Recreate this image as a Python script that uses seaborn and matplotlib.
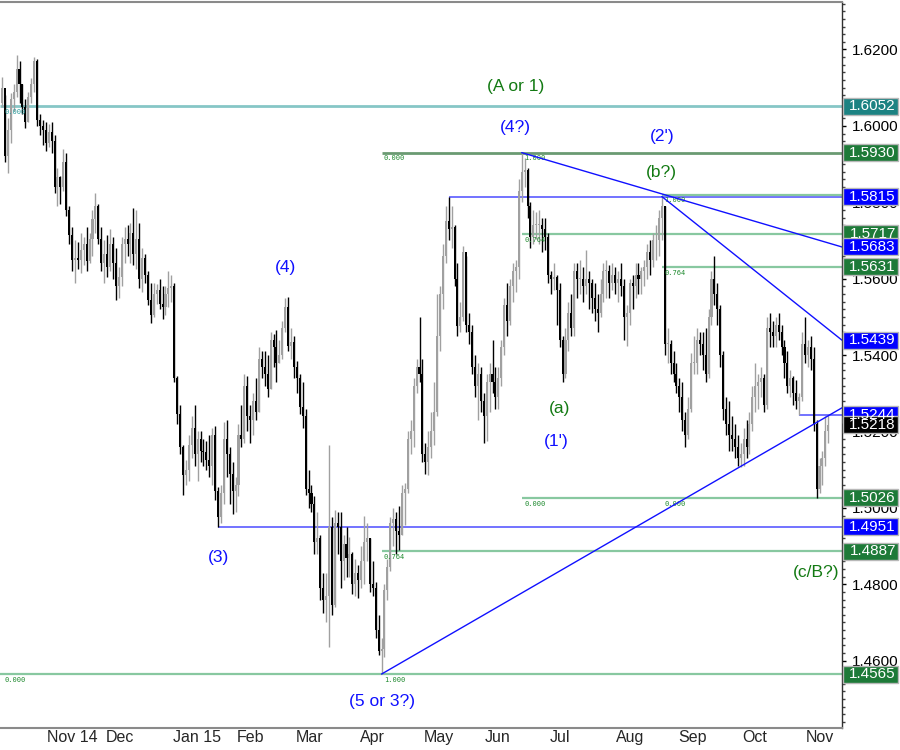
import numpy as np
import pandas as pd
import matplotlib
matplotlib.use("Agg")
import matplotlib.pyplot as plt
import matplotlib.transforms as mtransforms
from matplotlib.patches import Rectangle
from matplotlib.ticker import FormatStrFormatter, MultipleLocator
import seaborn as sns

sns.set_style("white")
plt.rcParams['font.family'] = ['Liberation Sans', 'DejaVu Sans']

# GBP/USD daily candles, weekdays 13 Oct 2014 - 12 Nov 2015
dates = pd.bdate_range('2014-10-13', '2015-11-12')
first_open = 1.6060

highs = [
    # Oct 14
    1.6128, 1.6080, 1.6020, 1.6085, 1.6110, 1.6185, 1.6170, 1.6110, 1.6070, 1.6090, 1.6125, 1.6180, 1.6175, 1.6030, 1.6015,
    # Nov 14
    1.6010, 1.6005, 1.6010, 1.5975, 1.5890, 1.5870, 1.5940, 1.5930, 1.5790, 1.5735, 1.5700, 1.5695, 1.5720, 1.5710, 1.5735,
    1.5720, 1.5780, 1.5825, 1.5795, 1.5735,
    # Dec
    1.5700, 1.5715, 1.5730, 1.5710, 1.5680, 1.5630, 1.5710, 1.5735, 1.5740, 1.5745, 1.5785, 1.5780, 1.5745, 1.5680, 1.5665,
    1.5620, 1.5590, 1.5590, 1.5585, 1.5600, 1.5580, 1.5580, 1.5620,
    # Jan 15
    1.5610, 1.5590, 1.5345, 1.5270, 1.5165, 1.5125, 1.5190, 1.5240, 1.5270, 1.5200, 1.5200, 1.5180, 1.5175, 1.5190, 1.5210,
    1.5215, 1.5055, 1.5060, 1.5225, 1.5230, 1.5160, 1.5120,
    # Feb
    1.5080, 1.5220, 1.5270, 1.5350, 1.5345, 1.5270, 1.5300, 1.5340, 1.5420, 1.5410, 1.5410, 1.5400, 1.5460, 1.5455, 1.5465,
    1.5440, 1.5490, 1.5550, 1.5552, 1.5470,
    # Mar
    1.5450, 1.5385, 1.5350, 1.5330, 1.5260, 1.5100, 1.5060, 1.5030, 1.4990, 1.4930, 1.4830, 1.4830, 1.5165, 1.4975, 1.4995,
    1.4990, 1.4990, 1.4930, 1.4950, 1.4925, 1.4885, 1.4865,
    # Apr
    1.4850, 1.4900, 1.4980, 1.4960, 1.4920, 1.4860, 1.4805, 1.4720, 1.4660, 1.4800, 1.4865, 1.4975, 1.5000, 1.4990, 1.5005,
    1.5060, 1.5065, 1.5200, 1.5230, 1.5340, 1.5390, 1.5500,
    # May
    1.5390, 1.5170, 1.5200, 1.5250, 1.5330, 1.5560, 1.5580, 1.5690, 1.5790, 1.5815, 1.5790, 1.5740, 1.5640, 1.5540, 1.5685,
    1.5660, 1.5510, 1.5480, 1.5400, 1.5380, 1.5370,
    # Jun
    1.5300, 1.5350, 1.5380, 1.5440, 1.5370, 1.5370, 1.5440, 1.5550, 1.5590, 1.5600, 1.5640, 1.5650, 1.5860, 1.5930, 1.5915,
    1.5890, 1.5800, 1.5780, 1.5775, 1.5780, 1.5760, 1.5760,
    # Jul
    1.5720, 1.5620, 1.5640, 1.5610, 1.5590, 1.5450, 1.5470, 1.5540, 1.5560, 1.5640, 1.5640, 1.5650, 1.5630, 1.5675, 1.5620,
    1.5600, 1.5590, 1.5560, 1.5600, 1.5640, 1.5650, 1.5635, 1.5640,
    # Aug
    1.5630, 1.5620, 1.5640, 1.5600, 1.5530, 1.5600, 1.5610, 1.5640, 1.5640, 1.5630, 1.5650, 1.5690, 1.5700, 1.5720, 1.5740,
    1.5780, 1.5815, 1.5790, 1.5470, 1.5440, 1.5410,
    # Sep
    1.5380, 1.5340, 1.5330, 1.5250, 1.5290, 1.5405, 1.5450, 1.5470, 1.5460, 1.5460, 1.5470, 1.5520, 1.5620, 1.5659, 1.5590,
    1.5530, 1.5410, 1.5290, 1.5280, 1.5240, 1.5220, 1.5190,
    # Oct
    1.5170, 1.5210, 1.5230, 1.5250, 1.5320, 1.5380, 1.5350, 1.5370, 1.5350, 1.5500, 1.5509, 1.5490, 1.5500, 1.5510, 1.5480,
    1.5440, 1.5410, 1.5360, 1.5345, 1.5335, 1.5300, 1.5460,
    # Nov
    1.5500, 1.5440, 1.5450, 1.5420, 1.5230, 1.5130, 1.5150, 1.5240, 1.5244,
]

lows = [
    # Oct 14
    1.6050, 1.5905, 1.5877, 1.5955, 1.6040, 1.6075, 1.6060, 1.6030, 1.5995, 1.6010, 1.6060, 1.6090, 1.6000, 1.5975, 1.5950,
    # Nov 14
    1.5935, 1.5945, 1.5930, 1.5825, 1.5790, 1.5795, 1.5830, 1.5765, 1.5690, 1.5620, 1.5590, 1.5625, 1.5615, 1.5635, 1.5620,
    1.5640, 1.5660, 1.5720, 1.5690, 1.5620,
    # Dec
    1.5590, 1.5605, 1.5620, 1.5600, 1.5545, 1.5550, 1.5580, 1.5640, 1.5660, 1.5640, 1.5635, 1.5625, 1.5575, 1.5565, 1.5590,
    1.5530, 1.5485, 1.5500, 1.5535, 1.5520, 1.5495, 1.5505, 1.5525,
    # Jan 15
    1.5540, 1.5330, 1.5220, 1.5140, 1.5035, 1.5060, 1.5070, 1.5130, 1.5110, 1.5070, 1.5120, 1.5110, 1.5100, 1.5080, 1.5060,
    1.5020, 1.4951, 1.4960, 1.5010, 1.5080, 1.5010, 1.4985,
    # Feb
    1.4990, 1.5030, 1.5160, 1.5170, 1.5200, 1.5170, 1.5190, 1.5230, 1.5250, 1.5340, 1.5320, 1.5290, 1.5310, 1.5370, 1.5330,
    1.5380, 1.5390, 1.5460, 1.5410, 1.5390,
    # Mar
    1.5340, 1.5300, 1.5245, 1.5210, 1.5035, 1.5000, 1.4990, 1.4880, 1.4880, 1.4760, 1.4725, 1.4700, 1.4635, 1.4720, 1.4740,
    1.4880, 1.4790, 1.4810, 1.4820, 1.4820, 1.4775, 1.4770,
    # Apr
    1.4765, 1.4790, 1.4800, 1.4860, 1.4780, 1.4770, 1.4660, 1.4615, 1.4565, 1.4610, 1.4760, 1.4835, 1.4900, 1.4880, 1.4890,
    1.4930, 1.4955, 1.5040, 1.5140, 1.5160, 1.5300, 1.5330,
    # May
    1.5120, 1.5090, 1.5085, 1.5130, 1.5165, 1.5240, 1.5410, 1.5520, 1.5640, 1.5700, 1.5680, 1.5580, 1.5450, 1.5460, 1.5490,
    1.5460, 1.5430, 1.5350, 1.5290, 1.5230, 1.5250,
    # Jun
    1.5170, 1.5175, 1.5250, 1.5300, 1.5260, 1.5260, 1.5320, 1.5400, 1.5450, 1.5480, 1.5540, 1.5565, 1.5600, 1.5800, 1.5840,
    1.5760, 1.5680, 1.5690, 1.5705, 1.5690, 1.5670, 1.5675,
    # Jul
    1.5590, 1.5560, 1.5570, 1.5480, 1.5420, 1.5330, 1.5340, 1.5410, 1.5450, 1.5450, 1.5550, 1.5560, 1.5540, 1.5560, 1.5520,
    1.5510, 1.5490, 1.5460, 1.5500, 1.5540, 1.5550, 1.5550, 1.5570,
    # Aug
    1.5560, 1.5540, 1.5555, 1.5440, 1.5425, 1.5480, 1.5520, 1.5550, 1.5560, 1.5560, 1.5580, 1.5600, 1.5610, 1.5630, 1.5650,
    1.5660, 1.5700, 1.5400, 1.5380, 1.5350, 1.5330,
    # Sep
    1.5300, 1.5250, 1.5200, 1.5160, 1.5180, 1.5250, 1.5350, 1.5350, 1.5400, 1.5360, 1.5330, 1.5340, 1.5480, 1.5530, 1.5480,
    1.5370, 1.5230, 1.5190, 1.5150, 1.5150, 1.5130, 1.5110,
    # Oct
    1.5107, 1.5110, 1.5130, 1.5140, 1.5200, 1.5250, 1.5260, 1.5290, 1.5250, 1.5260, 1.5420, 1.5420, 1.5420, 1.5440, 1.5400,
    1.5340, 1.5300, 1.5290, 1.5270, 1.5260, 1.5244, 1.5280,
    # Nov
    1.5380, 1.5370, 1.5360, 1.5200, 1.5026, 1.5040, 1.5060, 1.5110, 1.5170,
]

closes = [
    # Oct 14
    1.6100, 1.5920, 1.5990, 1.6070, 1.6090, 1.6150, 1.6110, 1.6050, 1.6010, 1.6075, 1.6110, 1.6170, 1.6015, 1.6000, 1.5990,
    # Nov 14
    1.5955, 1.5985, 1.5960, 1.5840, 1.5865, 1.5840, 1.5905, 1.5780, 1.5715, 1.5650, 1.5655, 1.5650, 1.5675, 1.5690, 1.5645,
    1.5705, 1.5755, 1.5790, 1.5705, 1.5640,
    # Dec
    1.5665, 1.5630, 1.5690, 1.5640, 1.5580, 1.5605, 1.5690, 1.5705, 1.5690, 1.5720, 1.5665, 1.5705, 1.5600, 1.5655, 1.5610,
    1.5545, 1.5505, 1.5560, 1.5570, 1.5535, 1.5525, 1.5560, 1.5575,
    # Jan 15
    1.5580, 1.5340, 1.5245, 1.5160, 1.5085, 1.5100, 1.5165, 1.5210, 1.5140, 1.5180, 1.5150, 1.5145, 1.5125, 1.5110, 1.5190,
    1.5045, 1.4975, 1.5040, 1.5180, 1.5140, 1.5090, 1.5045,
    # Feb
    1.5060, 1.5190, 1.5180, 1.5320, 1.5240, 1.5230, 1.5280, 1.5250, 1.5390, 1.5370, 1.5350, 1.5310, 1.5440, 1.5420, 1.5380,
    1.5400, 1.5470, 1.5525, 1.5425, 1.5435,
    # Mar
    1.5370, 1.5340, 1.5265, 1.5240, 1.5050, 1.5040, 1.5010, 1.4910, 1.4920, 1.4790, 1.4760, 1.4770, 1.4950, 1.4745, 1.4960,
    1.4950, 1.4860, 1.4905, 1.4870, 1.4880, 1.4800, 1.4830,
    # Apr
    1.4810, 1.4860, 1.4910, 1.4920, 1.4800, 1.4790, 1.4680, 1.4625, 1.4630, 1.4785, 1.4845, 1.4960, 1.4970, 1.4940, 1.4930,
    1.5040, 1.5050, 1.5180, 1.5200, 1.5320, 1.5370, 1.5350,
    # May
    1.5140, 1.5120, 1.5160, 1.5200, 1.5250, 1.5450, 1.5560, 1.5660, 1.5750, 1.5730, 1.5735, 1.5600, 1.5475, 1.5500, 1.5670,
    1.5480, 1.5460, 1.5370, 1.5320, 1.5350, 1.5280,
    # Jun
    1.5240, 1.5330, 1.5350, 1.5330, 1.5290, 1.5340, 1.5420, 1.5530, 1.5490, 1.5580, 1.5620, 1.5630, 1.5830, 1.5880, 1.5885,
    1.5790, 1.5710, 1.5740, 1.5740, 1.5740, 1.5730, 1.5710,
    # Jul
    1.5610, 1.5600, 1.5605, 1.5570, 1.5440, 1.5350, 1.5440, 1.5510, 1.5470, 1.5620, 1.5600, 1.5600, 1.5580, 1.5600, 1.5590,
    1.5550, 1.5520, 1.5510, 1.5560, 1.5620, 1.5620, 1.5590, 1.5610,
    # Aug
    1.5590, 1.5600, 1.5580, 1.5500, 1.5510, 1.5590, 1.5580, 1.5610, 1.5600, 1.5620, 1.5630, 1.5670, 1.5650, 1.5700, 1.5700,
    1.5760, 1.5790, 1.5430, 1.5430, 1.5380, 1.5350,
    # Sep
    1.5320, 1.5290, 1.5230, 1.5190, 1.5260, 1.5380, 1.5380, 1.5440, 1.5430, 1.5400, 1.5350, 1.5500, 1.5600, 1.5560, 1.5520,
    1.5400, 1.5260, 1.5220, 1.5190, 1.5180, 1.5160, 1.5130,
    # Oct
    1.5140, 1.5180, 1.5160, 1.5220, 1.5290, 1.5320, 1.5330, 1.5340, 1.5270, 1.5470, 1.5460, 1.5450, 1.5480, 1.5460, 1.5420,
    1.5380, 1.5320, 1.5340, 1.5300, 1.5280, 1.5290, 1.5430,
    # Nov
    1.5400, 1.5420, 1.5390, 1.5220, 1.5050, 1.5110, 1.5130, 1.5200, 1.5218,
]

# x axis months
month_starts = ['2014-11-03', '2014-12-01', '2015-01-01', '2015-02-02', '2015-03-02', '2015-04-01',
                '2015-05-01', '2015-06-01', '2015-07-01', '2015-08-03', '2015-09-01', '2015-10-01', '2015-11-02']
month_labels = ['Nov 14', 'Dec', 'Jan 15', 'Feb', 'Mar', 'Apr', 'May', 'Jun', 'Jul', 'Aug', 'Sep', 'Oct', 'Nov']

# horizontal levels: value, start date (None = whole chart), kind
level_values = [1.6052, 1.5930, 1.5815, 1.5820, 1.5717, 1.5631, 1.5244, 1.5026, 1.4951, 1.4887, 1.4565]
level_starts = [None, '2015-04-13', '2015-05-14', '2015-08-25', '2015-06-18', '2015-08-25', '2015-10-29',
                '2015-06-18', '2015-01-23', '2015-04-13', None]
level_kinds = ['ref', 'main', 'swing', 'fib', 'fib', 'fib', 'swing', 'fib', 'swing', 'fib', 'fib']

# fib ratio tags: text, level, date (None = left edge)
fib_texts = ['0.000', '0.000', '1.000', '1.000', '0.764', '0.764', '0.000', '0.000', '0.764', '0.000', '1.000']
fib_levels = [1.6052, 1.5930, 1.5930, 1.5820, 1.5717, 1.5631, 1.5026, 1.5026, 1.4887, 1.4565, 1.4565]
fib_dates = [None, '2015-04-13', '2015-06-18', '2015-08-25', '2015-06-18', '2015-08-25', '2015-06-18',
             '2015-08-25', '2015-04-13', None, '2015-04-13']

# trend lines: start point and value reached at the right edge
trend_dates = ['2015-06-18', '2015-08-25', '2015-04-13']
trend_start = [1.5930, 1.5815, 1.4565]
trend_end = [1.5683, 1.5439, 1.5262]

# wave count labels
wave_texts = ['(A or 1)', '(4?)', "(2')", '(b?)', '(4)', '(a)', "(1')", '(3)', '(5 or 3?)', '(c/B?)']
wave_dates = ['2015-06-16', '2015-06-16', '2015-08-25', '2015-08-25', '2015-02-25', '2015-07-07',
              '2015-07-06', '2015-01-23', '2015-04-13', '2015-11-06']
wave_prices = [1.6104, 1.5997, 1.5971, 1.5879, 1.5628, 1.5259, 1.5173, 1.4871, 1.4492, 1.4832]
wave_kinds = ['green', 'blue', 'blue', 'green', 'blue', 'green', 'blue', 'blue', 'blue', 'green']

# value boxes on the price scale
box_values = [1.6052, 1.5930, 1.5815, 1.5717, 1.5683, 1.5631, 1.5439, 1.5244, 1.5218, 1.5026, 1.4951, 1.4887, 1.4565]
box_kinds = ['ref', 'green', 'blue', 'green', 'blue', 'green', 'blue', 'blue', 'last', 'green', 'blue', 'green', 'green']

BLUE = '#1010ff'
GREEN_TXT = '#137a13'
line_colors = {'ref': '#86c6c6', 'main': '#6a9a72', 'swing': '#5a5aff', 'fib': '#88c8a0'}
box_colors = {'ref': '#1c8282', 'green': '#1d7a38', 'blue': '#0000ff', 'last': '#000000'}
text_colors = {'green': GREEN_TXT, 'blue': BLUE}

opens = np.array([first_open] + closes[:-1])
highs = np.array(highs)
lows = np.array(lows)
closes = np.array(closes)
x = np.arange(len(dates))


def idx(d):
    return dates.get_loc(pd.Timestamp(d))


fig = plt.figure(figsize=(9, 7.5), dpi=100)
ax = fig.add_axes([0.0, 22 / 750, 842 / 900, 726 / 750])
ymin, ymax = 1.44238, 1.63243
xmin, xmax = -0.68, 287.7
ax.set_xlim(xmin, xmax)
ax.set_ylim(ymin, ymax)

# candles
up = closes >= opens
cols = np.where(up, '#a0a0a0', '#000000')
ax.vlines(x, lows, highs, colors=cols, lw=1, zorder=3)
ax.bar(x, np.maximum(np.abs(closes - opens), 0.00025), bottom=np.minimum(opens, closes),
       width=0.7, color=cols, linewidth=0, zorder=3)

# horizontal levels
for v, s, k in zip(level_values, level_starts, level_kinds):
    x0 = xmin if s is None else idx(s)
    lw = 2 if k in ('ref', 'main') else (1.6 if k == 'fib' else 1.2)
    ax.plot([x0, xmax], [v, v], color=line_colors[k], lw=lw, zorder=2, solid_capstyle='butt')

# fib tags
for t, v, d in zip(fib_texts, fib_levels, fib_dates):
    x0 = xmin + 1.5 if d is None else idx(d) + 0.8
    c = '#2a9a9a' if v == 1.6052 else '#1f8a2f'
    ax.text(x0, v - 0.0007, t, fontsize=5, family='DejaVu Sans Mono', color=c, va='top', ha='left', zorder=4)

# trend lines
for d, p0, p1 in zip(trend_dates, trend_start, trend_end):
    ax.plot([idx(d), xmax], [p0, p1], color=BLUE, lw=1, zorder=4)

# wave labels
for t, d, p, k in zip(wave_texts, wave_dates, wave_prices, wave_kinds):
    ax.text(idx(d), p, t, color=text_colors[k], fontsize=12.5, ha='center', va='center', zorder=5)

# axes styling
ax.spines['left'].set_visible(False)
ax.spines['top'].set_color('#8a8a8a')
ax.spines['top'].set_linewidth(1.5)
ax.spines['bottom'].set_color('#8a8a8a')
ax.spines['bottom'].set_linewidth(1.5)
ax.spines['right'].set_color('#303030')
ax.spines['right'].set_linewidth(1)

ax.yaxis.tick_right()
ax.set_yticks(np.arange(1.46, 1.6201, 0.02))
ax.yaxis.set_major_formatter(FormatStrFormatter('%.4f'))
ax.yaxis.set_minor_locator(MultipleLocator(0.002))
ax.tick_params(axis='y', which='major', length=3, width=1, pad=4, labelsize=11, colors='#000000')
ax.tick_params(axis='y', which='minor', length=2.5, width=1, color='#404040')

ax.set_xticks([idx(d) - 0.5 for d in month_starts])
ax.set_xticklabels(month_labels)
ax.tick_params(axis='x', which='major', direction='out', length=16, width=1, color='#8a8a8a',
               pad=-14.5, labelsize=11.5)
shift = mtransforms.ScaledTranslation(2 / 72, 0, fig.dpi_scale_trans)
for lbl in ax.get_xticklabels():
    lbl.set_horizontalalignment('left')
    lbl.set_transform(lbl.get_transform() + shift)

# value boxes
trans = mtransforms.blended_transform_factory(ax.transAxes, ax.transData)
box_h = 17 / 726 * (ymax - ymin)
for v, k in zip(box_values, box_kinds):
    ax.add_patch(Rectangle((843 / 842, v - box_h / 2), 55 / 842, box_h, transform=trans,
                           facecolor=box_colors[k], edgecolor='#b8b8b8', lw=1, clip_on=False, zorder=6))
    ax.text(896 / 842, v, f'{v:.4f}', transform=trans, color='white', fontsize=11,
            ha='right', va='center', clip_on=False, zorder=7)

fig.savefig('out.png', dpi=100, facecolor='white')
